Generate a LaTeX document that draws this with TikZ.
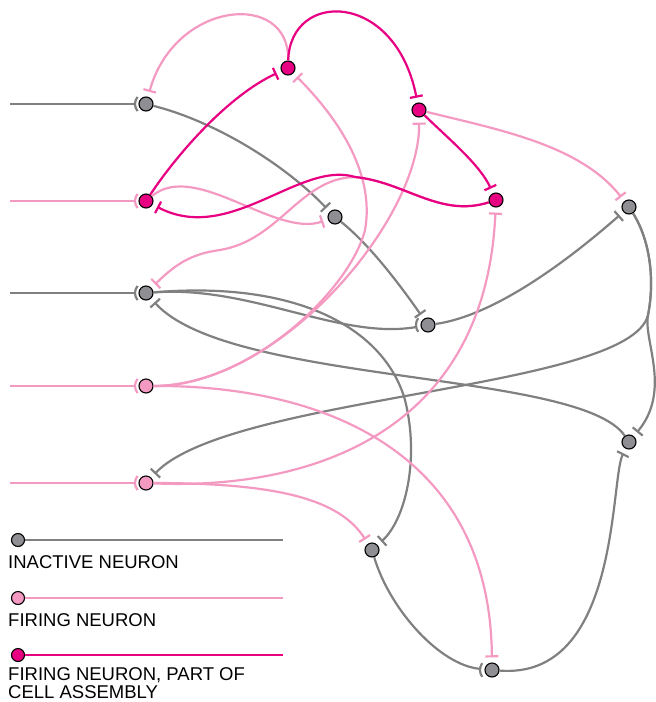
\documentclass[tikz,border=0pt]{standalone}
\usepackage{fontspec}
\setmainfont{Liberation Sans}
\usetikzlibrary{arrows.meta}
\definecolor{inact}{RGB}{128,128,128}
\definecolor{inactfill}{RGB}{142,142,147}
\definecolor{fire}{RGB}{244,154,194}
\definecolor{assem}{RGB}{232,0,130}
\begin{document}
\begin{tikzpicture}[x=1pt,y=-1pt,
  neuron/.style={circle, draw=black, line width=1.1pt, minimum size=14pt, inner sep=0pt},
  inactive/.style={neuron, fill=inactfill},
  firing/.style={neuron, fill=fire},
  assembly/.style={neuron, fill=assem},
  wire/.style={line width=2.2pt},
  syn/.style={wire, -{Bar[width=13pt]}, shorten >=5pt},
  gsyn/.style={syn, draw=inact},
  psyn/.style={syn, draw=fire},
  msyn/.style={syn, draw=assem},
  garc/.style={wire, draw=inact, shorten >=5pt},
  legtext/.style={anchor=base west, inner sep=0pt, font=\fontsize{18.5}{18}\selectfont, align=left},
]
\useasboundingbox (0,0) rectangle (656,702);

% neurons
\node[inactive] (A) at (146,104) {};
\node[assembly] (B) at (146,201) {};
\node[inactive] (C) at (146,293) {};
\node[firing]   (D) at (146,386) {};
\node[firing]   (E) at (146,483) {};
\node[assembly] (F) at (288,68) {};
\node[assembly] (G) at (419,110) {};
\node[assembly] (H) at (496,200) {};
\node[inactive] (I) at (335,217) {};
\node[inactive] (J) at (428,325) {};
\node[inactive] (K) at (629,207) {};
\node[inactive] (L) at (629,442) {};
\node[inactive] (M) at (372,550) {};
\node[inactive] (N) at (492,670) {};

% inputs
\coordinate (inA) at (10,104);
\coordinate (inB) at (10,201);
\coordinate (inC) at (10,293);
\coordinate (inD) at (10,386);
\coordinate (inE) at (10,483);
\foreach \n/\c in {A/inact,B/fire,C/inact,D/fire,E/fire}{
  \draw[wire, draw=\c] (in\n) -- ([xshift=-11pt]\n.center);
  \draw[wire, draw=\c] ([shift={(140:11)}]\n.center) arc[start angle=140, end angle=220, radius=11];
}

% gray connections
\draw[gsyn] (A) .. controls (210,120) and (280,160) .. (I);
\draw[gsyn] (I) .. controls (370,245) and (400,285) .. (J);
\draw[garc] (C) .. controls (250,285) and (340,340) .. (J);
\draw[wire, draw=inact] ([shift={(145:12)}]J.center) arc[start angle=145, end angle=215, radius=12];
\draw[gsyn] (C) .. controls (300,280) and (385,330) .. (405,400) .. controls (420,460) and (405,520) .. (M);
\draw[gsyn] (L) .. controls (580,370) and (230,385) .. (C);
\draw[gsyn] (J) .. controls (500,315) and (580,250) .. (K);
\draw[gsyn] (K) .. controls (650,240) and (655,280) .. (648,315) .. controls (643,340) and (672,390) .. (L);
\draw[gsyn] (K) .. controls (650,240) and (655,280) .. (648,315) .. controls (630,390) and (230,395) .. (E);
\draw[gsyn] (N) .. controls (620,680) and (610,480) .. (L);
\draw[garc] (M) .. controls (390,610) and (440,665) .. (N);
\draw[wire, draw=inact] ([shift={(145:12)}]N.center) arc[start angle=145, end angle=215, radius=12];

% light pink connections
\draw[psyn] (F) .. controls (290,-10) and (175,0) .. (A);
\draw[psyn] (G) .. controls (500,130) and (580,145) .. (K);
\draw[psyn] (B) .. controls (195,160) and (275,238) .. (I);
\draw[psyn] (H) .. controls (440,218) and (405,182) .. (355,177) .. controls (300,178) and (280,240) .. (220,250) .. controls (190,254) and (175,265) .. (C);
\draw[psyn] (D) .. controls (320,385) and (490,450) .. (N);
\draw[psyn] (D) .. controls (280,386) and (420,220) .. (G);
\draw[psyn] (D) .. controls (250,386) and (350,290) .. (365,230) .. controls (375,175) and (340,120) .. (F);
\draw[psyn] (E) .. controls (280,483) and (340,500) .. (M);
\draw[psyn] (E) .. controls (300,490) and (485,440) .. (H);

% cell assembly connections
\draw[msyn] (B) .. controls (180,150) and (230,95) .. (F);
\draw[msyn] (F) .. controls (290,-10) and (395,-10) .. (G);
\draw[msyn] (G) .. controls (450,140) and (480,165) .. (H);
\draw[msyn] (H) .. controls (440,218) and (405,182) .. (355,177) .. controls (300,160) and (230,245) .. (B);

% legend
\node[inactive, minimum size=13pt] (l1) at (18,540) {};
\coordinate (l1e) at (283,540);
\draw[wire, draw=inact] (l1) -- (l1e);
\node[legtext] (t1) at (8,568) {INACTIVE NEURON};
\node[firing, minimum size=13pt] (l2) at (18,598) {};
\coordinate (l2e) at (283,598);
\draw[wire, draw=fire] (l2) -- (l2e);
\node[legtext] (t2) at (8,626) {FIRING NEURON};
\node[assembly, minimum size=13pt] (l3) at (18,655) {};
\coordinate (l3e) at (283,655);
\draw[wire, draw=assem] (l3) -- (l3e);
\node[legtext] (t3) at (8,698) {FIRING NEURON, PART OF\\CELL ASSEMBLY};
\end{tikzpicture}
\end{document}
